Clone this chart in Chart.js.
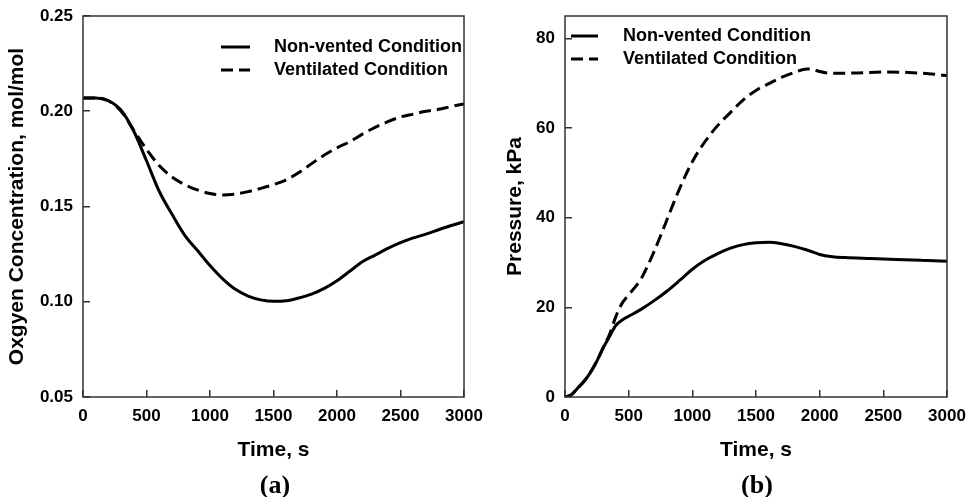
<!DOCTYPE html>
<html>
<head>
<meta charset="utf-8">
<script src="https://cdn.jsdelivr.net/npm/chart.js@4.4.1/dist/chart.umd.min.js"></script>
<style>
  body { margin: 0; background: #fff; }
  .panel { position: absolute; top: 0; }
  .caption {
    position: absolute; top: 471px; transform: translateX(-50%);
    font: bold 26px "Liberation Serif", "Times New Roman", serif; line-height: 28px; color: #000;
  }
</style>
</head>
<body>
<canvas id="o2" class="panel" width="483" height="497" style="left:0"></canvas>
<canvas id="pres" class="panel" width="483" height="497" style="left:483px"></canvas>
<div class="caption" style="left:275px">(a)</div>
<div class="caption" style="left:757px">(b)</div>
<script>
// oxygen concentration, mol/mol
const timeO2 = [0, 100, 200, 300, 400, 500, 600, 700, 800, 900, 1000, 1100, 1200, 1300, 1400, 1500,
  1600, 1700, 1800, 1900, 2000, 2100, 2200, 2300, 2400, 2500, 2600, 2700, 2800, 2900, 3000];
const o2NonVented = [0.207, 0.207, 0.2055, 0.2005, 0.1895, 0.174, 0.158, 0.146, 0.135, 0.127, 0.119,
  0.112, 0.1065, 0.103, 0.101, 0.1002, 0.1005, 0.102, 0.104, 0.107, 0.111, 0.116, 0.121, 0.1245,
  0.128, 0.131, 0.1335, 0.1355, 0.1378, 0.140, 0.142];
const o2Ventilated = [0.207, 0.207, 0.2055, 0.200, 0.190, 0.180, 0.1715, 0.1655, 0.1615, 0.1587, 0.1568,
  0.156, 0.1565, 0.1578, 0.1595, 0.1615, 0.164, 0.1678, 0.1725, 0.177, 0.1808, 0.184, 0.188, 0.1915,
  0.1945, 0.197, 0.1985, 0.200, 0.201, 0.2025, 0.2038];

// pressure, kPa
const timeNonVented = [0, 50, 100, 150, 200, 250, 300, 350, 400, 450, 500, 600, 700, 800, 900, 1000,
  1100, 1200, 1300, 1400, 1500, 1600, 1700, 1800, 1900, 2000, 2100, 2200, 2400, 2600, 2800, 3000];
const presNonVented = [0, 0.5, 2.0, 3.5, 5.5, 8.0, 11.0, 13.5, 16.0, 17.2, 18.0, 19.6, 21.5, 23.6, 26.0,
  28.5, 30.5, 32.0, 33.2, 34.0, 34.4, 34.5, 34.2, 33.6, 32.8, 31.8, 31.3, 31.1, 30.9, 30.7, 30.5, 30.3];
const timeVentilated = [0, 50, 100, 150, 200, 250, 300, 350, 400, 450, 500, 600, 700, 800, 900, 1000,
  1100, 1200, 1300, 1400, 1500, 1600, 1700, 1800, 1900, 1950, 2000, 2100, 2300, 2500, 2700, 2900, 3000];
const presVentilated = [0, 0.5, 2.0, 3.5, 5.5, 8.0, 11.0, 14.0, 18.0, 21.0, 22.8, 26.5, 32.5, 39.5, 46.5,
  52.5, 57.0, 60.6, 63.5, 66.3, 68.4, 69.9, 71.3, 72.4, 73.2, 73.1, 72.6, 72.2, 72.3, 72.5, 72.4, 72.0, 71.7];

const seriesNames = ['Non-vented Condition', 'Ventilated Condition'];
const timeTicks = [0, 500, 1000, 1500, 2000, 2500, 3000];

Chart.defaults.font.family = '"Liberation Sans", Arial, sans-serif';
Chart.defaults.font.weight = 'bold';
Chart.defaults.color = '#000';

const DASH = [12, 6];

// box around the plot area plus a hand placed legend inside it
const framePlugin = {
  id: 'frameLegend',
  afterDraw(chart, args, opts) {
    const { ctx, chartArea: a } = chart;
    ctx.save();
    ctx.strokeStyle = '#333';
    ctx.lineWidth = 1.5;
    ctx.strokeRect(a.left, a.top, a.right - a.left, a.bottom - a.top);

    ctx.font = 'bold 18px "Liberation Sans", Arial, sans-serif';
    ctx.fillStyle = '#000';
    ctx.textBaseline = 'middle';
    chart.data.datasets.forEach((ds, i) => {
      const y = opts.rows[i];
      ctx.beginPath();
      ctx.setLineDash(ds.borderDash || []);
      ctx.lineWidth = 3;
      ctx.strokeStyle = '#000';
      ctx.moveTo(opts.x0, y);
      ctx.lineTo(opts.x1, y);
      ctx.stroke();
      ctx.setLineDash([]);
      ctx.fillText(ds.label, opts.textX, y);
    });
    ctx.restore();
  }
};

function line(label, xs, ys, dashed) {
  return {
    label,
    data: xs.map((x, i) => ({ x, y: ys[i] })),
    borderColor: '#000',
    borderWidth: 3,
    borderDash: dashed ? DASH : [],
    pointRadius: 0,
    cubicInterpolationMode: 'monotone',
    fill: false
  };
}

function makeChart(id, datasets, yOpts, yWidth, yTitlePad, legend) {
  new Chart(document.getElementById(id), {
    type: 'line',
    data: { datasets },
    options: {
      responsive: false,
      animation: false,
      layout: { padding: { top: 16, right: 19, bottom: 30, left: 0 } },
      plugins: { legend: { display: false }, tooltip: { enabled: false }, frameLegend: legend },
      scales: {
        x: {
          type: 'linear', min: 0, max: 3000,
          afterBuildTicks: s => { s.ticks = timeTicks.map(v => ({ value: v })); },
          afterFit: s => { s.height = 70; s.paddingLeft = 0; s.paddingRight = 0; },
          border: { display: false },
          grid: { drawOnChartArea: false, tickLength: -7, color: '#333', lineWidth: 1.5 },
          ticks: { font: { size: 17 }, padding: 16, maxRotation: 0, autoSkip: false, callback: v => String(v) },
          title: { display: true, text: 'Time, s', font: { size: 21 }, padding: { top: 0, bottom: 4 } }
        },
        y: {
          type: 'linear', min: yOpts.min, max: yOpts.max,
          afterBuildTicks: s => { s.ticks = yOpts.ticks.map(v => ({ value: v })); },
          afterFit: s => { s.width = yWidth; s.paddingTop = 0; s.paddingBottom = 0; },
          border: { display: false },
          grid: { drawOnChartArea: false, tickLength: -7, color: '#333', lineWidth: 1.5 },
          ticks: { font: { size: 17 }, padding: 17, callback: yOpts.format },
          title: { display: true, text: yOpts.title, font: { size: 21 }, padding: { top: yTitlePad, bottom: 0 } }
        }
      }
    },
    plugins: [framePlugin]
  });
}

makeChart('o2', [
  line(seriesNames[0], timeO2, o2NonVented, false),
  line(seriesNames[1], timeO2, o2Ventilated, true)
], {
  min: 0.05, max: 0.25, ticks: [0.05, 0.10, 0.15, 0.20, 0.25],
  format: v => v.toFixed(2), title: 'Oxgyen Concentration, mol/mol'
}, 83, 5, { x0: 221, x1: 250, textX: 274, rows: [47, 70] });

makeChart('pres', [
  line(seriesNames[0], timeNonVented, presNonVented, false),
  line(seriesNames[1], timeVentilated, presVentilated, true)
], {
  min: 0, max: 85, ticks: [0, 20, 40, 60, 80],
  format: v => String(v), title: 'Pressure, kPa'
}, 82, 20, { x0: 88, x1: 115, textX: 140, rows: [36, 59] });
</script>
</body>
</html>
